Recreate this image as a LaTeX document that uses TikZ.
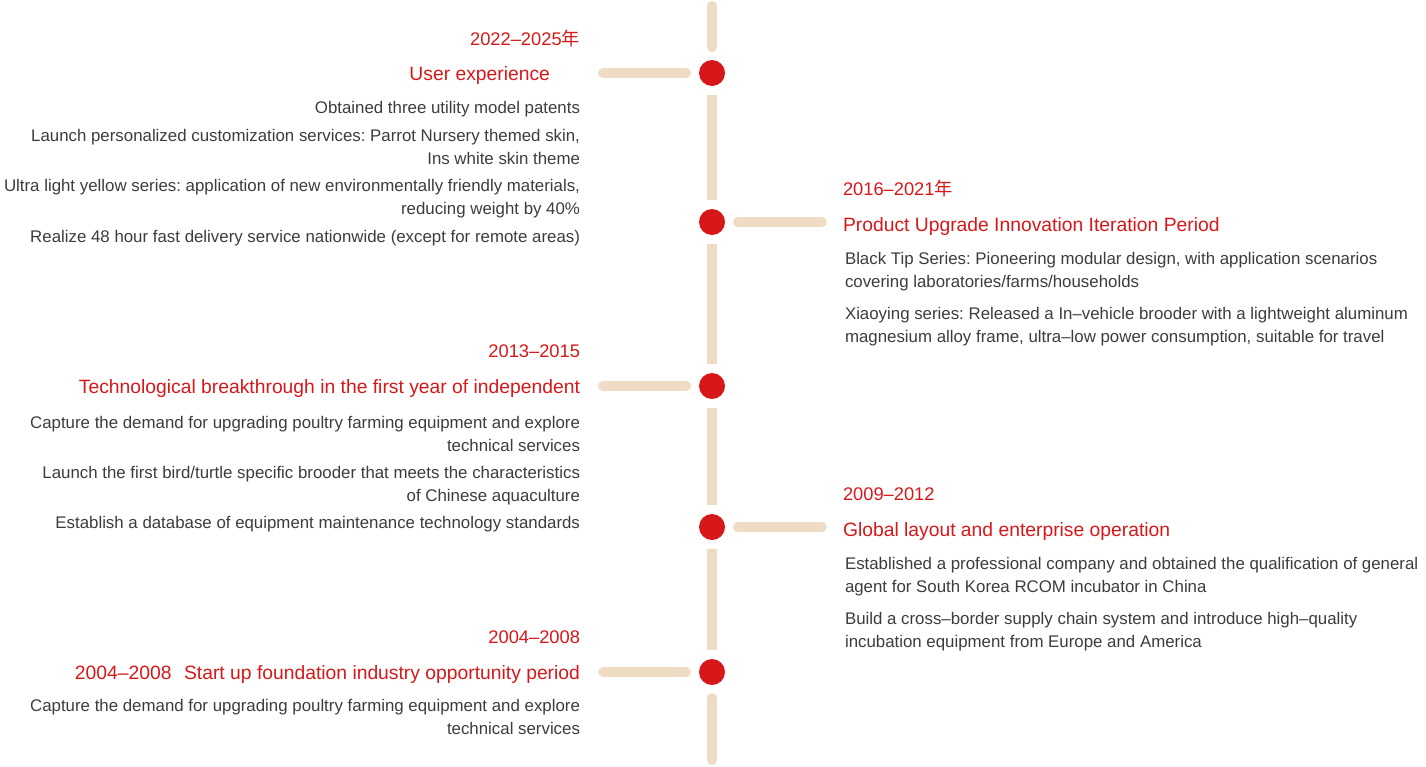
\documentclass[tikz,border=0pt]{standalone}
\usepackage{fontspec}
\setmainfont{Liberation Sans}
\newfontfamily\cjk{Noto Sans CJK SC}
\frenchspacing
\definecolor{railtan}{HTML}{F0DCC4}
\definecolor{dotred}{HTML}{D7181A}
\definecolor{bodygray}{HTML}{3C3C3C}

\begin{document}
\begin{tikzpicture}[x=1pt,y=-1pt]
\tikzstyle{every node}=[inner sep=0pt, outer sep=0pt]
\tikzstyle{rail}=[draw=railtan, line width=9.5pt]
\tikzstyle{stop}=[circle, fill=dotred, minimum size=26pt]
\tikzstyle{year}=[font=\fontsize{18.3}{22}\selectfont, text=dotred]
\tikzstyle{headline}=[font=\fontsize{19.3}{22}\selectfont, text=dotred]
\tikzstyle{item}=[font=\fontsize{16.85}{22.7}\selectfont, text=bodygray]
\useasboundingbox (0,0) rectangle (1426,766);
% timeline stops
\node (s1) [stop] at (712,73) {};
\node (s2) [stop] at (712,222) {};
\node (s3) [stop] at (712,386) {};
\node (s4) [stop] at (712,527) {};
\node (s5) [stop] at (712,672) {};
\coordinate (railtop) at (712,5.5);
\coordinate (railbot) at (712,760.5);
\coordinate (arm1) at (602.75,73);
\coordinate (arm2) at (822,222);
\coordinate (arm3) at (602.75,386);
\coordinate (arm4) at (822,527);
\coordinate (arm5) at (602.75,672);
% rail
\draw[rail, line cap=round] (railtop) -- ([yshift=12.75pt]s1.north);
\draw[rail] ([yshift=-9pt]s1.south) -- ([yshift=9pt]s2.north);
\draw[rail] ([yshift=-9pt]s2.south) -- ([yshift=9pt]s3.north);
\draw[rail] ([yshift=-9pt]s3.south) -- ([yshift=9pt]s4.north);
\draw[rail] ([yshift=-9pt]s4.south) -- ([yshift=9pt]s5.north);
\draw[rail, line cap=round] ([yshift=-12.75pt]s5.south) -- (railbot);
\draw[rail, line cap=round] ([xshift=-12.75pt]s1.west) -- (arm1);
\draw[rail, line cap=round] ([xshift=12.75pt]s2.east) -- (arm2);
\draw[rail, line cap=round] ([xshift=-12.75pt]s3.west) -- (arm3);
\draw[rail, line cap=round] ([xshift=12.75pt]s4.east) -- (arm4);
\draw[rail, line cap=round] ([xshift=-12.75pt]s5.west) -- (arm5);
% 2022-2025
\node (yr1) [year, anchor=base east] at (580,45.5) {2022–2025{\cjk 年}};
\node (hd1) [headline, anchor=base east] at (550,80) {User experience};
\node (it1a) [item, anchor=north east, align=right] at (580,101.3) {Obtained three utility model patents};
\node (it1b) [item, anchor=north east, align=right] at (580,129.3) {Launch personalized customization services: Parrot Nursery themed skin,\\Ins white skin theme};
\node (it1c) [item, anchor=north east, align=right] at (580,179.3) {Ultra light yellow series: application of new environmentally friendly materials,\\reducing weight by 40\%};
\node (it1d) [item, anchor=north east, align=right] at (580,230.3) {Realize 48 hour fast delivery service nationwide (except for remote areas)};
% 2016-2021
\node (yr2) [year, anchor=base west] at (843,195.5) {2016–2021{\cjk 年}};
\node (hd2) [headline, anchor=base west] at (843,231) {Product Upgrade Innovation Iteration Period};
\node (it2a) [item, anchor=north west, align=left] at (845,252.3) {Black Tip Series: Pioneering modular design, with application scenarios\\covering laboratories/farms/households};
\node (it2b) [item, anchor=north west, align=left] at (845,307.3) {Xiaoying series: Released a In–vehicle brooder with a lightweight aluminum\\magnesium alloy frame, ultra–low power consumption, suitable for travel};
% 2013-2015
\node (yr3) [year, anchor=base east] at (580,357.5) {2013–2015};
\node (hd3) [headline, anchor=base east] at (580,393) {Technological breakthrough in the first year of independent};
\node (it3a) [item, anchor=north east, align=right] at (580,416.3) {Capture the demand for upgrading poultry farming equipment and explore\\technical services};
\node (it3b) [item, anchor=north east, align=right] at (580,466.3) {Launch the first bird/turtle specific brooder that meets the characteristics\\of Chinese aquaculture};
\node (it3c) [item, anchor=north east, align=right] at (580,516.3) {Establish a database of equipment maintenance technology standards};
% 2009-2012
\node (yr4) [year, anchor=base west] at (843,500.5) {2009–2012};
\node (hd4) [headline, anchor=base west] at (843,536) {Global layout and enterprise operation};
\node (it4a) [item, anchor=north west, align=left] at (845,557.3) {Established a professional company and obtained the qualification of general\\agent for South Korea RCOM incubator in China};
\node (it4b) [item, anchor=north west, align=left] at (845,612.3) {Build a cross–border supply chain system and introduce high–quality\\incubation equipment from Europe and America};
% 2004-2008
\node (yr5) [year, anchor=base east] at (580,643.5) {2004–2008};
\node (hd5) [headline, anchor=base east] at (580,679) {2004–2008\hspace{0.65em}Start up foundation industry opportunity period};
\node (it5a) [item, anchor=north east, align=right] at (580,699.3) {Capture the demand for upgrading poultry farming equipment and explore\\technical services};
\end{tikzpicture}
\end{document}
